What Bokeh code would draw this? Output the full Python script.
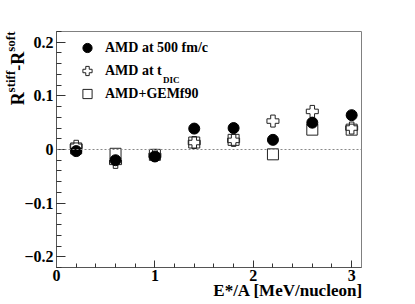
from bokeh.plotting import figure
from bokeh.models import (Range1d, FixedTicker, Span, Label, Legend, LegendItem,
                          LinearAxis)
from bokeh.embed import file_html
from bokeh.resources import INLINE

# ---- data ----
energy = [0.2, 0.6, 1.0, 1.4, 1.8, 2.2, 2.6, 3.0]
amd_500 = [-0.003, -0.020, -0.013, 0.039, 0.040, 0.018, 0.050, 0.064]
amd_tdic = [0.006, -0.024, -0.011, 0.013, 0.017, 0.053, 0.071, 0.040]
amd_gem = [0.002, -0.008, -0.010, 0.013, 0.018, -0.009, 0.037, 0.037]

x_ticks = [0, 1, 2, 3]
x_tick_labels = ["0", "1", "2", "3"]
y_ticks = [-0.2, -0.1, 0.0, 0.1, 0.2]
y_tick_labels = ["\u22120.2", "\u22120.1", "0", "0.1", "0.2"]
x_minor = [round(i * 0.2, 2) for i in range(0, 16)]
y_minor = [round(-0.22 + i * 0.02, 2) for i in range(0, 23)]

legend_labels = ["AMD at 500 fm/c", "AMD at t", "AMD+GEMf90"]
x_title = "E*/A [MeV/nucleon]"
y_title_main = ["R", "-R"]
y_title_sup = ["stiff", "soft"]

FONT = "Liberation Serif"
X0, X1 = 0.0, 3.1
Y0, Y1 = -0.22, 0.22
W, H = 415, 304
BL, BR, BT, BB = 54, 54, 31, 37
FW, FH = W - BL - BR, H - BT - BB

p = figure(width=W, height=H, output_backend="svg", toolbar_location=None,
           x_range=Range1d(X0, X1), y_range=Range1d(Y0, Y1),
           min_border_left=BL, min_border_right=BR, min_border_top=BT,
           min_border_bottom=BB)
p.background_fill_color = "white"
p.border_fill_color = "white"
p.outline_line_color = "#808080"
p.outline_line_width = 1
p.grid.visible = False

xa = p.xaxis[0]
ya = p.yaxis[0]
xa.ticker = FixedTicker(ticks=x_ticks, minor_ticks=x_minor)
ya.ticker = FixedTicker(ticks=y_ticks, minor_ticks=y_minor)
xa.major_label_overrides = {t: l for t, l in zip(x_ticks, x_tick_labels)}
ya.major_label_overrides = {t: l for t, l in zip(y_ticks, y_tick_labels)}
for ax in (xa, ya):
    ax.axis_line_color = "#555555"
    ax.major_tick_line_color = "#333333"
    ax.minor_tick_line_color = "#333333"
    ax.major_tick_out = 0
    ax.minor_tick_out = 0
    ax.major_label_text_font = FONT
    ax.major_label_text_font_style = "bold"
    ax.major_label_text_font_size = "16px"
    ax.major_label_text_color = "black"
xa.major_tick_in = 7
xa.minor_tick_in = 4
ya.major_tick_in = 9
ya.minor_tick_in = 5
xa.major_label_standoff = 2
ya.major_label_standoff = 3


def px_to_y(py):
    return Y1 - (py - BT) * (Y1 - Y0) / FH


def px_to_x(px):
    return X0 + (px - BL) * (X1 - X0) / FW


def title_axis(ticks, labels, size, standoff, orient):
    ax = LinearAxis()
    ax.ticker = FixedTicker(ticks=ticks, minor_ticks=[])
    ax.major_label_overrides = {t: l for t, l in zip(ticks, labels)}
    ax.axis_line_color = None
    ax.major_tick_line_color = None
    ax.minor_tick_line_color = None
    ax.major_tick_in = 0
    ax.major_tick_out = 0
    ax.minor_tick_in = 0
    ax.minor_tick_out = 0
    ax.major_label_standoff = standoff
    ax.major_label_orientation = orient
    ax.major_label_text_font = FONT
    ax.major_label_text_font_style = "bold"
    ax.major_label_text_font_size = size
    ax.major_label_text_color = "black"
    return ax


# y title pieces (bottom to top): R(18px) stiff(13px) -R(18px) soft(13px)
w_R = 0.722 * 18
w_stiff = 1.666 * 13
w_mR = 1.055 * 18
w_soft = 1.555 * 13
top = 31.0
c_soft = top + w_soft / 2
c_mR = top + w_soft + w_mR / 2
c_stiff = top + w_soft + w_mR + w_stiff / 2
c_R = top + w_soft + w_mR + w_stiff + w_R / 2
ta_main = title_axis([px_to_y(c_R), px_to_y(c_mR)], y_title_main, "18px", -7,
                     "vertical")
ta_sup = title_axis([px_to_y(c_stiff), px_to_y(c_soft)], y_title_sup, "13px",
                    -13, "vertical")
p.add_layout(ta_main, "left")
p.add_layout(ta_sup, "left")

# x title, right aligned near the right end of the axis
w_xt = 8.805 * 17
tx = title_axis([px_to_x(362 - w_xt / 2)], [x_title], "17px", -3, "horizontal")
p.add_layout(tx, "below")

# zero line
p.add_layout(Span(location=0, dimension="width", line_color="#888888",
                  line_dash="2 2", line_width=1))

# markers
r_gem = p.scatter(energy, amd_gem, marker="square", size=11, fill_color=None,
                  line_color="#222222", line_width=1)
r_tdic = p.scatter(energy, amd_tdic, marker="plus", size=12, fill_color=None,
                   line_color="#222222", line_width=1)
r_500 = p.scatter(energy, amd_500, marker="circle", size=11, fill_color="black",
                  line_color="black")

legend = Legend(items=[LegendItem(label=legend_labels[0], renderers=[r_500]),
                       LegendItem(label=legend_labels[1], renderers=[r_tdic]),
                       LegendItem(label=legend_labels[2], renderers=[r_gem])],
                location=(17, 162), orientation="vertical",
                glyph_width=28, glyph_height=23, spacing=0, padding=0, margin=0,
                label_standoff=4, label_height=14,
                label_text_font=FONT, label_text_font_style="bold",
                label_text_font_size="14px", label_text_color="black",
                border_line_color=None, background_fill_alpha=0)
p.add_layout(legend, "center")

p.add_layout(Label(x=106.5, y=188, x_units="screen", y_units="screen", text="DIC",
                   text_font=FONT, text_font_style="bold", text_font_size="9px",
                   text_color="black", text_baseline="alphabetic", text_align="left"))

open("out.html", "w").write(file_html(p, INLINE))
